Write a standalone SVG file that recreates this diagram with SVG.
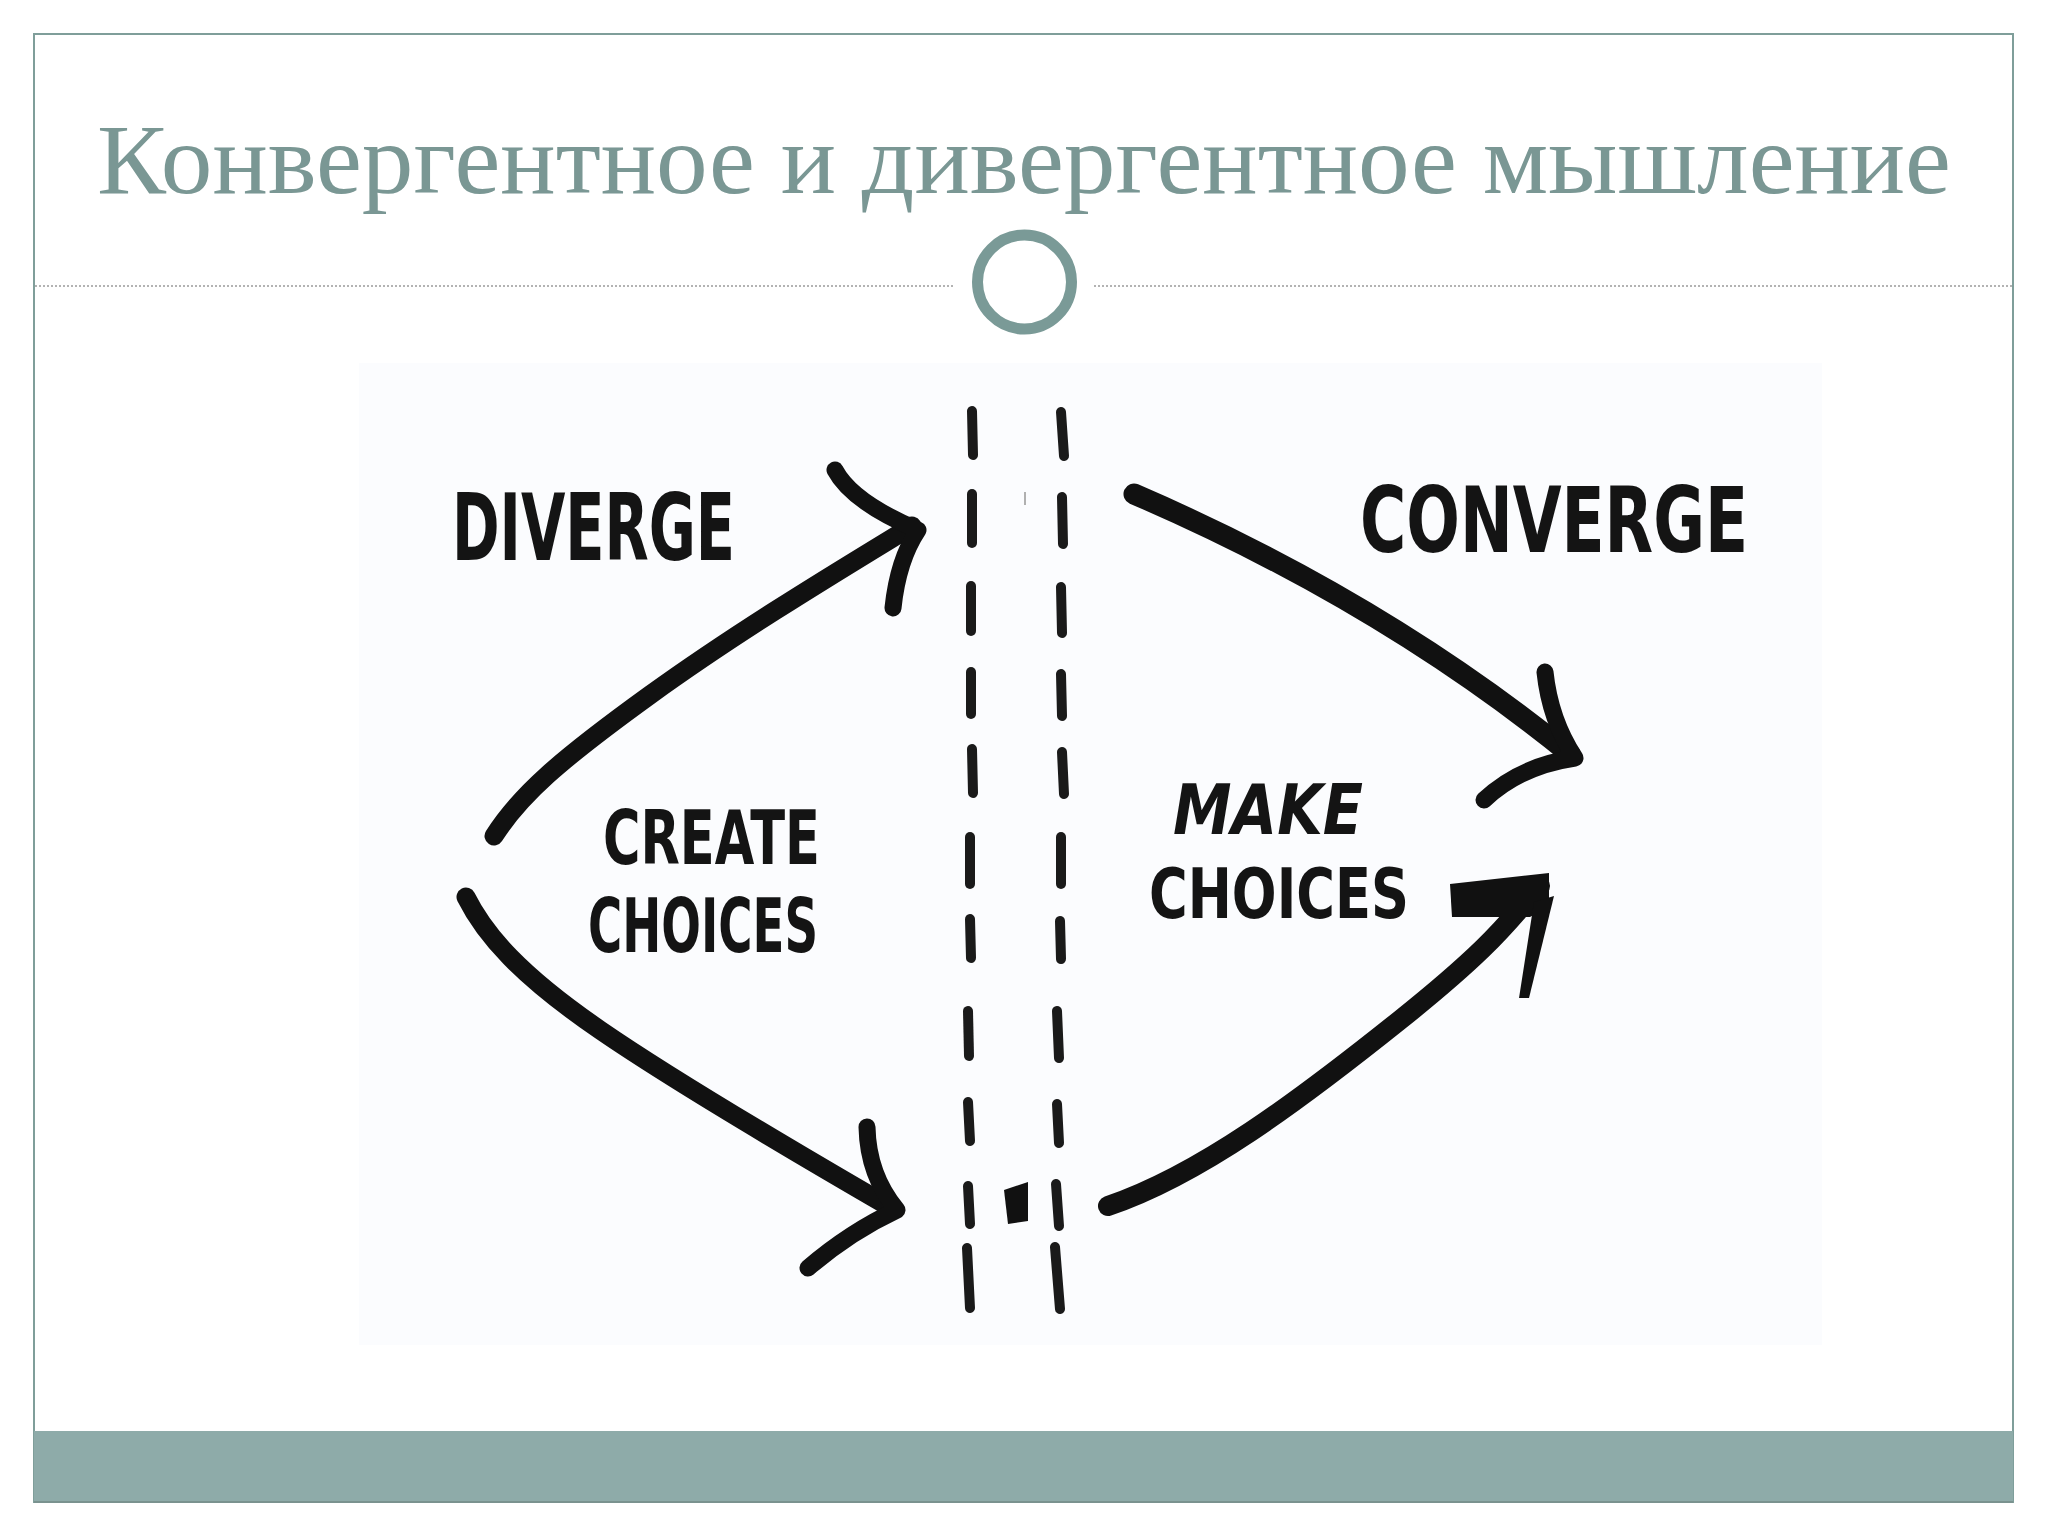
<svg xmlns="http://www.w3.org/2000/svg" width="2048" height="1536" viewBox="0 0 2048 1536">
<style>
.title{font-family:"Liberation Serif","DejaVu Serif",serif;font-size:100px;fill:#7a9794}
.hand{font-family:"DejaVu Sans","Liberation Sans",sans-serif;font-weight:bold;fill:#141414}
.ink{fill:none;stroke:#111;stroke-linecap:round;stroke-linejoin:round}
.dash{stroke:#1a1a1a;stroke-width:10;stroke-linecap:round}
.dot{stroke:#9a9a9a;stroke-width:1.5;stroke-dasharray:2 2}
</style>
<rect x="0" y="0" width="2048" height="1536" fill="#ffffff"/>
<g id="frame">
<rect x="34" y="34" width="1979" height="1468" fill="#ffffff" stroke="#7f9e9a" stroke-width="2"/>
<rect x="359" y="363" width="1463" height="982" fill="#fbfcfe"/>
<rect x="34" y="1431" width="1979" height="71" fill="#8eaba9"/>
<line x1="34" y1="1502" x2="2013" y2="1502" stroke="#7a928f" stroke-width="2"/>
</g>
<g id="title">
<text class="title" x="97" y="193" textLength="1854" lengthAdjust="spacingAndGlyphs">Конвергентное и дивергентное мышление</text>
</g>
<g id="divider">
<line class="dot" x1="35" y1="286" x2="955" y2="286"/>
<line class="dot" x1="1094" y1="286" x2="2012" y2="286"/>
<circle cx="1024.5" cy="282" r="47" fill="none" stroke="#7a9a97" stroke-width="11"/>
</g>
<g id="dashed-lines">
<line class="dash" x1="972" y1="411" x2="973" y2="455"/>
<line class="dash" x1="972" y1="494" x2="972" y2="543"/>
<line class="dash" x1="971" y1="586" x2="971" y2="631"/>
<line class="dash" x1="971" y1="672" x2="971" y2="714"/>
<line class="dash" x1="972" y1="749" x2="973" y2="793"/>
<line class="dash" x1="970" y1="837" x2="970" y2="884"/>
<line class="dash" x1="970" y1="919" x2="971" y2="958"/>
<line class="dash" x1="968" y1="1011" x2="969" y2="1056"/>
<line class="dash" x1="968" y1="1102" x2="970" y2="1141"/>
<line class="dash" x1="968" y1="1186" x2="970" y2="1224"/>
<line class="dash" x1="967" y1="1248" x2="970" y2="1308"/>
<line class="dash" x1="1061" y1="412" x2="1064" y2="456"/>
<line class="dash" x1="1062" y1="497" x2="1063" y2="544"/>
<line class="dash" x1="1061" y1="587" x2="1062" y2="633"/>
<line class="dash" x1="1061" y1="674" x2="1062" y2="716"/>
<line class="dash" x1="1062" y1="752" x2="1064" y2="794"/>
<line class="dash" x1="1061" y1="837" x2="1061" y2="884"/>
<line class="dash" x1="1060" y1="921" x2="1061" y2="959"/>
<line class="dash" x1="1057" y1="1011" x2="1059" y2="1058"/>
<line class="dash" x1="1057" y1="1104" x2="1059" y2="1143"/>
<line class="dash" x1="1056" y1="1184" x2="1059" y2="1226"/>
<line class="dash" x1="1055" y1="1247" x2="1060" y2="1309"/>
<polygon points="1004,1190 1028,1182 1028,1221 1008,1224" fill="#111"/>
<line x1="1025" y1="492" x2="1025" y2="505" stroke="#b0b0b0" stroke-width="2"/>
</g>
<g id="connectors">
<path class="ink" stroke-width="19" d="M494,836 C520,795 560,760 650,695 S840,570 912,526"/>
<path class="ink" stroke-width="17" d="M835,470 Q852,502 918,530 Q898,560 893,608"/>
<path class="ink" stroke-width="19" d="M466,897 C485,935 520,975 600,1030 S800,1155 888,1206"/>
<path class="ink" stroke-width="17" d="M867,1127 Q868,1175 897,1210 Q850,1232 808,1268"/>
<path class="ink" stroke-width="21" d="M1134,494 Q1380,600 1570,754"/>
<path class="ink" stroke-width="17" d="M1545,672 Q1550,720 1575,758 Q1520,766 1484,800"/>
<path class="ink" stroke-width="20" d="M1108,1206 C1200,1175 1300,1100 1400,1020 S1510,918 1540,886"/>
<polygon points="1450,884 1549,873 1549,906 1530,917 1452,917" fill="#111"/>
<polygon points="1534,902 1554,896 1529,998 1519,998" fill="#111"/>
</g>
<g id="label-diverge">
<text class="hand" x="452" y="560" font-size="92" textLength="283" lengthAdjust="spacingAndGlyphs">DIVERGE</text>
</g>
<g id="label-converge">
<text class="hand" x="1360" y="552" font-size="90" textLength="388" lengthAdjust="spacingAndGlyphs">CONVERGE</text>
</g>
<g id="label-create-choices">
<text class="hand" x="603" y="864" font-size="74" textLength="217" lengthAdjust="spacingAndGlyphs">CREATE</text>
<text class="hand" x="588" y="952" font-size="74" textLength="230" lengthAdjust="spacingAndGlyphs">CHOICES</text>
</g>
<g id="label-make-choices">
<text class="hand" x="1173" y="834" font-size="70" font-style="italic" textLength="190" lengthAdjust="spacingAndGlyphs">MAKE</text>
<text class="hand" x="1149" y="918" font-size="70" textLength="260" lengthAdjust="spacingAndGlyphs">CHOICES</text>
</g>
</svg>
